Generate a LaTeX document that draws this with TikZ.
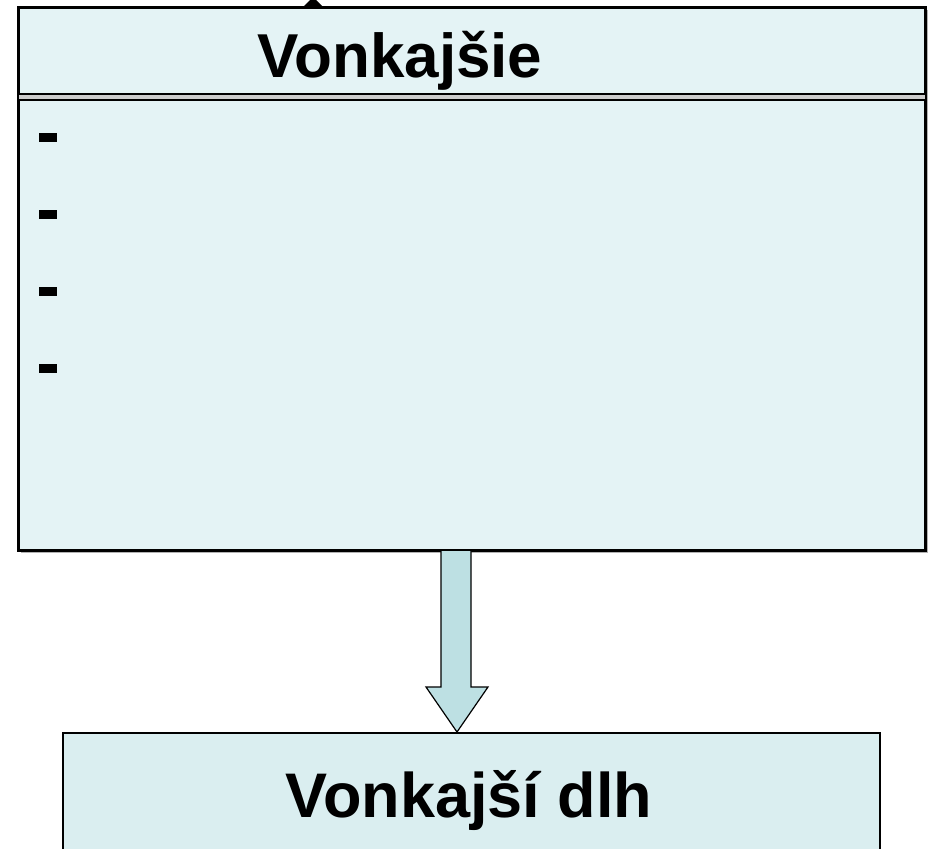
\documentclass[tikz,border=0pt]{standalone}
\usepackage{fontspec}
\setmainfont{Liberation Sans}
\definecolor{boxA}{HTML}{E4F3F5}
\definecolor{boxB}{HTML}{DAEEF0}
\definecolor{arrowfill}{HTML}{BDE0E3}
\begin{document}
\begin{tikzpicture}[x=1pt,y=-1pt,
  toptext/.style={font=\fontsize{62}{70}\selectfont\bfseries},
  bigtext/.style={font=\fontsize{63}{70}\selectfont\bfseries},
  bulletbar/.style={fill=black}]
\useasboundingbox (0,0) rectangle (930,849);
\clip (0,0) rectangle (930,849);
% peeking arrow tip at top
\fill[black] (302,8) -- (313,-3) -- (324,8) -- cycle;
% top box
\fill[gray!60] (21,10) rectangle (928,553);
\draw[line width=3pt,fill=boxA] (18,7) rectangle (925,550);
\node[inner sep=0pt,minimum width=907pt,minimum height=543pt] (top) at (471.5,278.5) {};
\draw[line width=1pt,fill=gray!40] (18,94) rectangle (925,100);
\draw[line width=2.2pt] (18,94) -- (925,94);
\draw[line width=2.2pt] (18,100) -- (925,100);
\node[toptext,anchor=base] (title) at (400,77) {Vonkajšie};
\foreach \yy in {133,210,287,364}
  \fill[bulletbar] (39,\yy) rectangle (57,\yy+9);
% bottom box
\draw[line width=1.3pt,fill=boxB] (63,733) rectangle (880,880);
\node[inner sep=0pt,minimum width=817pt,minimum height=147pt] (bot) at (471.5,806.5) {};
\node[bigtext,anchor=base] (btext) at (469,817) {Vonkajší dlh};
% block arrow
\coordinate (as) at (456,551);
\coordinate (at) at (457,732);
\draw[line width=1.2pt,fill=arrowfill,line join=miter]
  (441,551) -- (441,687) -- (426,687) -- (at) -- (488,687) -- (471,687) -- (471,551);
\end{tikzpicture}
\end{document}
